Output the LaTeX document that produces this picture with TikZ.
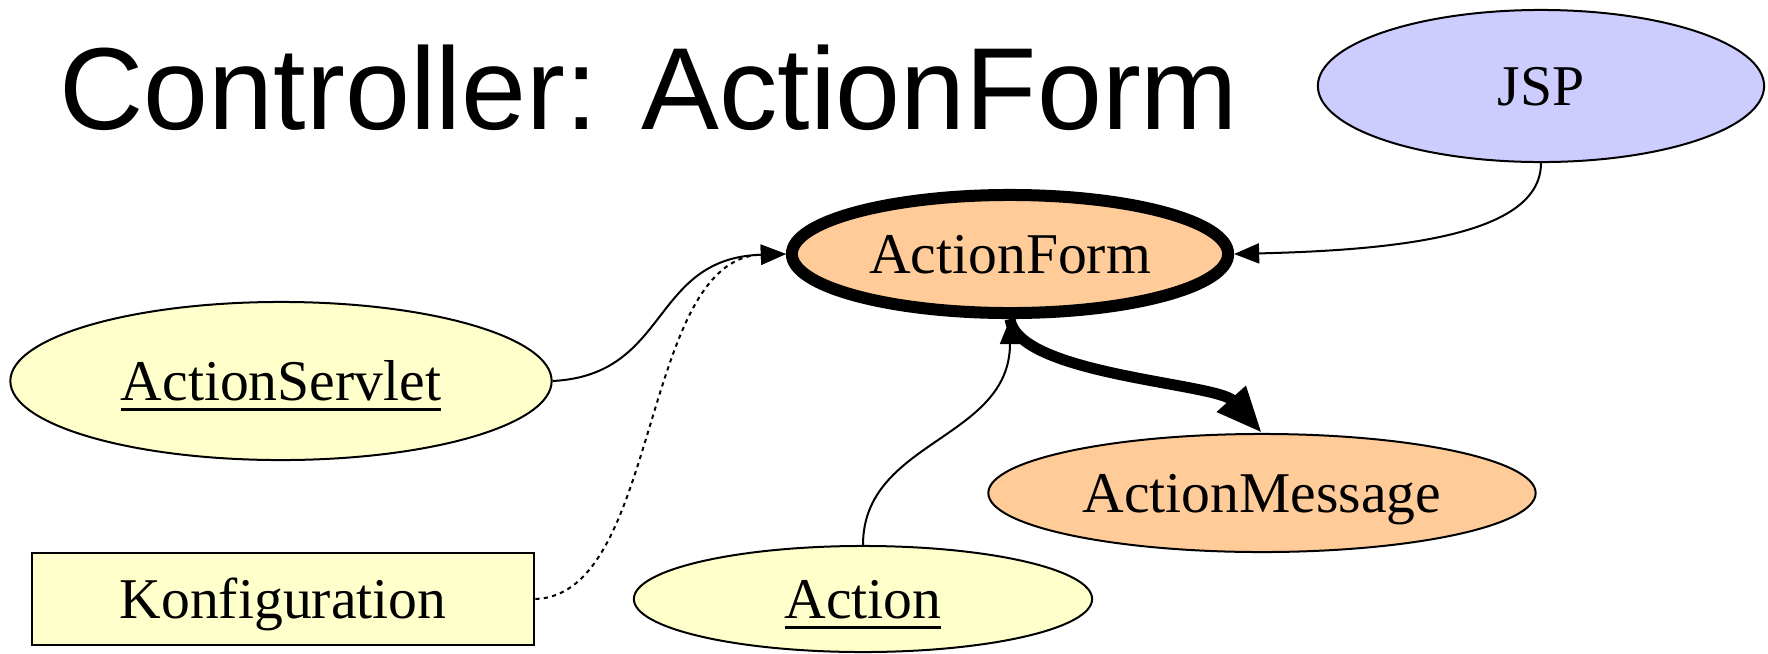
\documentclass[tikz,border=0pt]{standalone}
\usepackage{fontspec}
\setmainfont{Liberation Serif}
\newfontfamily\titlefont{Liberation Sans}
\usetikzlibrary{arrows,arrows.meta,positioning,shapes}
\definecolor{peach}{RGB}{255,204,153}
\definecolor{pale}{RGB}{255,255,204}
\definecolor{lilac}{RGB}{204,204,255}
\newcommand{\undl}[1]{\setbox0\hbox{#1}\rlap{\rule[-0.19em]{\wd0}{0.05em}}\box0}
\tikzset{
  bubble/.style={ellipse,draw,line width=0.02cm,inner sep=0pt,font=\fontsize{16.4pt}{18pt}\selectfont,text height=10.9pt,text depth=0pt},
  yel/.style={bubble,fill=pale},
  org/.style={bubble,fill=peach},
  conf/.style={rectangle,draw,line width=0.025cm,fill=pale,inner sep=0pt,font=\fontsize{16.4pt}{18pt}\selectfont,text height=10.9pt,text depth=0pt},
  arr/.style={line width=0.02cm,-{Triangle[length=0.25cm,width=0.2cm]}},
  fat/.style={line width=0.11cm,-{Triangle[length=0.46cm,width=0.36cm]}},
}

\begin{document}
\begin{tikzpicture}[x=0.01cm,y=-0.01cm]
	\useasboundingbox (0,0) rectangle (1768,654);

	\node[anchor=base west,inner sep=0pt,font=\titlefont\fontsize{33.2pt}{40pt}\selectfont] (title) at (59,129) {Controller: ActionForm};

	\node[bubble,fill=lilac,minimum width=4.46cm,minimum height=1.52cm] (jsp) at (1541,86) {JSP};
	\node[org,line width=0.12cm,minimum width=4.36cm,minimum height=1.18cm] (form) at (1010,254) {ActionForm};
	\node[yel,minimum width=5.41cm,minimum height=1.58cm] (servlet) at (281,381) {\undl{ActionServlet}};
	\node[org,minimum width=5.47cm,minimum height=1.18cm] (message) at (1262,493) {ActionMessage};
	\node[yel,minimum width=4.58cm,minimum height=1.06cm] (action) at (863,599) {\undl{Action}};
	\node[conf,minimum width=5.02cm,minimum height=0.92cm] (konfig) at (283,599) {Konfiguration};

	\draw[arr] (jsp.south) .. controls +(0,72) and +(166,-4) .. (form.east);
	\draw[arr] (servlet.east) .. controls +(118,-6) and +(-136,4) .. (form.west);
	\draw[arr,dash pattern=on 1.2pt off 1.2pt] (konfig.east) .. controls +(125,-4) and +(-146,4) .. (form.west);
	\draw[arr] (action.north) .. controls +(0,-105) and +(0,121) .. (form.south);
	\draw[fat] (form.south) .. controls +(8,56) and +(-45,-50) .. (message.north);

\end{tikzpicture}
\end{document}
